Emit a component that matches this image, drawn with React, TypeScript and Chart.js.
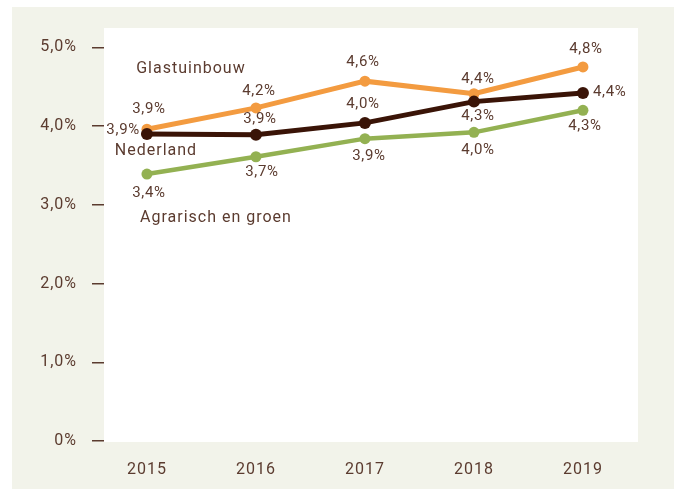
import React, { useEffect, useRef } from "react";
import { Chart, registerables } from "chart.js";

Chart.register(...registerables);

const years = [2015, 2016, 2017, 2018, 2019];
const seriesNames = ["Glastuinbouw", "Nederland", "Agrarisch en groen"];
const glastuinbouw = [3.96, 4.23, 4.57, 4.41, 4.75];
const nederland = [3.9, 3.89, 4.04, 4.31, 4.42];
const agrarisch = [3.39, 3.61, 3.84, 3.92, 4.2];
const glastuinbouwLabels = ["3,9%", "4,2%", "4,6%", "4,4%", "4,8%"];
const nederlandLabels = ["3,9%", "3,9%", "4,0%", "4,3%", "4,4%"];
const agrarischLabels = ["3,4%", "3,7%", "3,9%", "4,0%", "4,3%"];
const yTicks = [0, 1, 2, 3, 4, 5];
const yTickLabels = ["0%", "1,0%", "2,0%", "3,0%", "4,0%", "5,0%"];

const TEXT = "#5b3b2f";
const ORANGE = "#f39b40";
const DARK = "#3a1407";
const GREEN = "#93b152";
const BEIGE = "#f2f3ea";
const FONT = "Roboto, 'DejaVu Sans', sans-serif";

// label placement offsets (px) relative to each point: [dx, dy, align]
const placeG: [number, number, CanvasTextAlign][] = [
  [2, -20, "center"], [3, -17, "center"], [-2, -19, "center"], [4, -14, "center"], [3, -18, "center"],
];
const placeN: [number, number, CanvasTextAlign][] = [
  [-7, -4, "right"], [4, -15, "center"], [-2, -19, "center"], [4, 15, "center"], [10, -1, "left"],
];
const placeA: [number, number, CanvasTextAlign][] = [
  [2, 19, "center"], [6, 16, "center"], [4, 18, "center"], [4, 18, "center"], [2, 16, "center"],
];

const decorPlugin = {
  id: "decor",
  beforeDraw(chart: any) {
    const { ctx, chartArea } = chart;
    ctx.save();
    ctx.fillStyle = BEIGE;
    ctx.fillRect(12, 7, 662, 482);
    ctx.fillStyle = "#ffffff";
    ctx.fillRect(chartArea.left, chartArea.top, chartArea.right - chartArea.left, chartArea.bottom - chartArea.top + 1);
    ctx.restore();
    (ctx as any).letterSpacing = "1px";
  },
  afterDraw(chart: any) {
    const { ctx } = chart;
    const xs = chart.scales.x;
    const ys = chart.scales.y;
    ctx.save();
    (ctx as any).letterSpacing = "0.7px";
    ctx.fillStyle = TEXT;
    ctx.textBaseline = "middle";
    ctx.font = `15px ${FONT}`;
    const sets: [number[], string[], [number, number, CanvasTextAlign][]][] = [
      [glastuinbouw, glastuinbouwLabels, placeG],
      [nederland, nederlandLabels, placeN],
      [agrarisch, agrarischLabels, placeA],
    ];
    sets.forEach(([vals, labels, place]) => {
      vals.forEach((v, i) => {
        const px = xs.getPixelForValue(years[i]);
        const py = ys.getPixelForValue(v);
        const [dx, dy, al] = place[i];
        ctx.textAlign = al;
        ctx.fillText(labels[i], px + dx, py + dy);
      });
    });
    // series names
    (ctx as any).letterSpacing = "1px";
    ctx.font = `16px ${FONT}`;
    ctx.textAlign = "center";
    const x0 = xs.getPixelForValue(years[0]);
    ctx.fillText(seriesNames[0], x0 + 44, ys.getPixelForValue(glastuinbouw[0]) - 60);
    ctx.fillText(seriesNames[1], x0 + 9, ys.getPixelForValue(nederland[0]) + 17);
    ctx.fillText(seriesNames[2], x0 + 69, ys.getPixelForValue(agrarisch[0]) + 44);
    ctx.restore();
    (ctx as any).letterSpacing = "0px";
  },
};

export default function App() {
  const ref = useRef<HTMLCanvasElement | null>(null);
  useEffect(() => {
    if (!ref.current) return;
    const mk = (vals: number[]) => vals.map((v, i) => ({ x: years[i], y: v }));
    const chart = new Chart(ref.current, {
      type: "line",
      data: {
        datasets: [
          {
            label: seriesNames[1],
            data: mk(nederland),
            borderColor: DARK,
            backgroundColor: DARK,
            borderWidth: 5,
            pointRadius: 6,
            pointBorderWidth: 0,
            order: 0,
          },
          {
            label: seriesNames[0],
            data: mk(glastuinbouw),
            borderColor: ORANGE,
            backgroundColor: ORANGE,
            borderWidth: 5,
            pointRadius: 5.5,
            pointBorderWidth: 0,
            order: 1,
          },
          {
            label: seriesNames[2],
            data: mk(agrarisch),
            borderColor: GREEN,
            backgroundColor: GREEN,
            borderWidth: 4.5,
            pointRadius: 5.5,
            pointBorderWidth: 0,
            order: 2,
          },
        ],
      },
      options: {
        responsive: false,
        animation: false,
        layout: { padding: { top: 28, right: 40, left: 0, bottom: 0 } },
        plugins: { legend: { display: false }, tooltip: { enabled: false } },
        scales: {
          x: {
            type: "linear",
            min: 2014.606,
            max: 2019.505,
            afterBuildTicks: (s: any) => {
              s.ticks = years.map((v) => ({ value: v }));
            },
            afterFit: (s: any) => {
              s.height = 48;
            },
            grid: { display: false },
            border: { display: false },
            ticks: {
              padding: 11,
              color: TEXT,
              font: { family: FONT, size: 16 },
              callback: (v: any) => String(v),
              maxRotation: 0,
            },
          },
          y: {
            min: 0,
            max: 5.245,
            afterBuildTicks: (s: any) => {
              s.ticks = yTicks.map((v) => ({ value: v }));
            },
            afterFit: (s: any) => {
              s.width = 104;
            },
            grid: {
              drawOnChartArea: false,
              drawTicks: true,
              tickLength: 12,
              color: TEXT,
              lineWidth: 1.5,
            },
            border: { display: false },
            ticks: {
              padding: 15,
              color: TEXT,
              font: { family: FONT, size: 16 },
              callback: (v: any) => yTickLabels[yTicks.indexOf(Number(v))] ?? "",
            },
          },
        },
      },
      plugins: [decorPlugin],
    } as any);
    return () => chart.destroy();
  }, []);
  return (
    <div style={{ position: "absolute", left: 0, top: 0, width: 678, height: 489 }}>
      <canvas ref={ref} width={678} height={489} />
    </div>
  );
}
